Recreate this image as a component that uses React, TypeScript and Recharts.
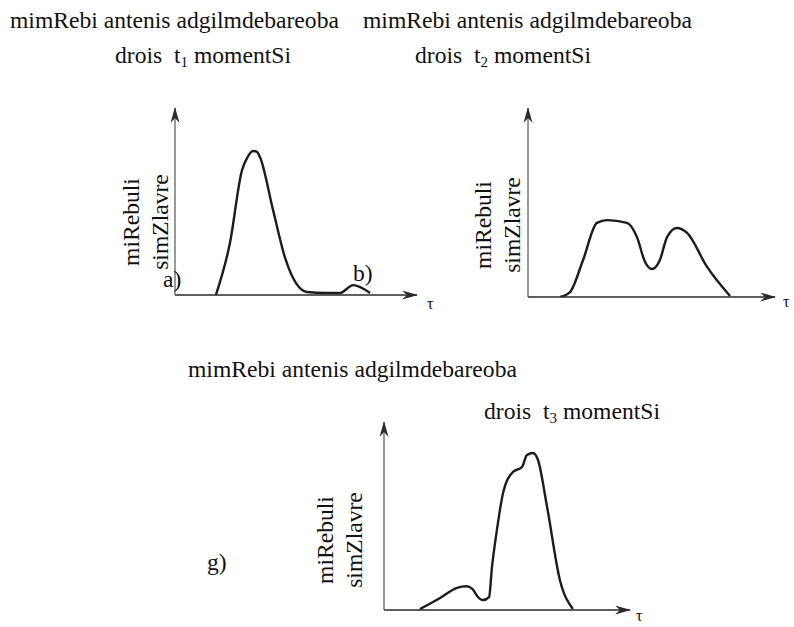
import React from 'react';
import { LineChart, Line, XAxis, YAxis } from 'recharts';

// received power vs. time, read from the three sketches (x: 0..100, y: 0..100 of the axis box)
const TIME_A = [16.9, 22.7, 27.7, 29.8, 32.2, 33.9, 35.1, 40.5, 45.5, 54.5, 62.8, 68.2, 73.6, 80.6];
const POWER_A = [0, 27.8, 66.8, 73.3, 77, 76.5, 73.8, 45.5, 19.8, 1.6, 1.1, 1.1, 5.3, 1.1];

const TIME_B = [13.0, 17.0, 22.3, 27.9, 32.0, 40.1, 44.1, 47.4, 50.2, 53.4, 56.3, 60.3, 64.4, 72.5, 81.8];
const POWER_B = [0, 2.6, 19.6, 39.2, 40.7, 39.2, 31.7, 18.5, 14.8, 19.6, 31.7, 36.5, 33.9, 15.9, 0.5];

const TIME_G = [14.6, 22.8, 29.7, 33.5, 35.8, 38.0, 40.2, 42.7, 43.9, 45.9, 48.4, 52.4, 56.1, 58.1, 60.6, 62.6, 66.3, 71.5, 76.8];
const POWER_G = [0.5, 6.4, 11.8, 12.6, 11.4, 7.2, 5.3, 6.9, 22.9, 42.6, 62.2, 73.4, 76.1, 82.4, 83.5, 79.8, 54.8, 16.0, 0.5];

const TITLE = 'mimRebi antenis adgilmdebareoba';
const Y_LABEL = ['miRebuli', 'simZlavre'];
const PANEL_TAGS = ['a)', 'b)', 'g)'];

const FONT = '"Liberation Serif", Tinos, "DejaVu Serif", serif';

const toRows = (xs: number[], ys: number[]) => xs.map((t, i) => ({ t, p: ys[i] }));

function Panel({ xs, ys, ox, oy, tipX, topY }: { xs: number[]; ys: number[]; ox: number; oy: number; tipX: number; topY: number }) {
  const pad = 10;
  return (
    <div style={{ position: 'absolute', left: ox - pad, top: topY - pad }}>
      <LineChart
        width={tipX - ox + pad * 2}
        height={oy - topY + pad * 2}
        data={toRows(xs, ys)}
        margin={{ top: pad, right: pad, bottom: pad - 2, left: pad - 2 }}
      >
        <XAxis
          dataKey="t"
          type="number"
          domain={[0, 100]}
          allowDataOverflow
          height={2}
          tick={false}
          tickLine={false}
          axisLine={{ stroke: '#2a2a2a', strokeWidth: 1.4, markerEnd: 'url(#axisArrow)' }}
        />
        <YAxis
          type="number"
          domain={[0, 100]}
          allowDataOverflow
          width={2}
          tick={false}
          tickLine={false}
          axisLine={{ stroke: '#555', strokeWidth: 1.2, markerStart: 'url(#axisArrow)' }}
        />
        <Line
          dataKey="p"
          type="monotone"
          stroke="#1c1c1c"
          strokeWidth={2.4}
          dot={false}
          isAnimationActive={false}
        />
      </LineChart>
    </div>
  );
}

function Text({ left, baseline, size = 23.6, children }: { left: number; baseline: number; size?: number; children: React.ReactNode }) {
  return (
    <div
      style={{
        position: 'absolute',
        left,
        top: baseline - size * 0.837,
        fontSize: size,
        lineHeight: `${size}px`,
        whiteSpace: 'pre',
        fontFamily: FONT,
        color: '#111',
      }}
    >
      {children}
    </div>
  );
}

const Sub = ({ n }: { n: string }) => (
  <span style={{ fontSize: 15, position: 'relative', top: 4 }}>{n}</span>
);

function YLabel({ cx, cy }: { cx: number; cy: number }) {
  return (
    <div
      style={{
        position: 'absolute',
        left: cx - 60,
        top: cy - 29,
        width: 120,
        height: 58,
        textAlign: 'center',
        fontSize: 23.6,
        lineHeight: '29px',
        fontFamily: FONT,
        color: '#111',
        transform: 'rotate(-90deg)',
      }}
    >
      {Y_LABEL[0]}
      <br />
      {Y_LABEL[1]}
    </div>
  );
}

export default function App() {
  return (
    <div style={{ position: 'absolute', left: 0, top: 0, width: 794, height: 627, background: '#fff', overflow: 'hidden' }}>
      <svg width={0} height={0} style={{ position: 'absolute' }}>
        <defs>
          <marker
            id="axisArrow"
            viewBox="0 0 16 9"
            refX={15}
            refY={4.5}
            markerWidth={16}
            markerHeight={9}
            markerUnits="userSpaceOnUse"
            orient="auto-start-reverse"
          >
            <path d="M0,0 L16,4.5 L0,9 L5,4.5 Z" fill="#2a2a2a" />
          </marker>
        </defs>
      </svg>

      <Text left={10} baseline={29}>{TITLE}</Text>
      <Text left={115} baseline={64}>drois  t<Sub n="1" /> momentSi</Text>
      <Text left={363} baseline={29}>{TITLE}</Text>
      <Text left={415} baseline={64}>drois  t<Sub n="2" /> momentSi</Text>
      <Text left={188} baseline={378}>{TITLE}</Text>
      <Text left={484} baseline={420}>drois  t<Sub n="3" /> momentSi</Text>

      <Panel xs={TIME_A} ys={POWER_A} ox={175} oy={295} tipX={417} topY={108} />
      <Panel xs={TIME_B} ys={POWER_B} ox={528} oy={297} tipX={775} topY={108} />
      <Panel xs={TIME_G} ys={POWER_G} ox={384} oy={610} tipX={630} topY={422} />

      <YLabel cx={146} cy={222} />
      <YLabel cx={498} cy={225} />
      <YLabel cx={340} cy={540} />

      <Text left={163} baseline={288}>{PANEL_TAGS[0]}</Text>
      <Text left={353} baseline={282}>{PANEL_TAGS[1]}</Text>
      <Text left={207} baseline={571}>{PANEL_TAGS[2]}</Text>

      <Text left={427} baseline={309} size={16}>τ</Text>
      <Text left={783} baseline={307} size={16}>τ</Text>
      <Text left={636} baseline={621} size={16}>τ</Text>
    </div>
  );
}
